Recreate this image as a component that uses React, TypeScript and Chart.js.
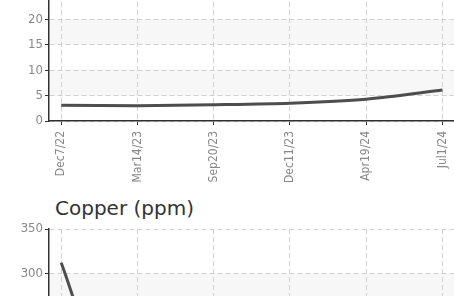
import React, { useEffect, useRef } from "react";
import { Chart, registerables } from "chart.js";

Chart.register(...registerables);

// ---- data ----
const sampleDates = ["Dec7/22", "Mar14/23", "Sep20/23", "Dec11/23", "Apr19/24", "Jul1/24"];
const upperSeries = [3.1, 3.0, 3.2, 3.5, 4.3, 6.1];
const copperSeries = [312, 83, 55, 40, 32, 28];
const upperMax = 25;
const upperStep = 5;
const copperMax = 350;
const copperStep = 50;
const copperTitle = "Copper (ppm)";

const TICK_FONT = "'DejaVu Sans Condensed', 'Liberation Sans Narrow', Roboto, sans-serif";

const bandPlugin = {
  id: "bands",
  beforeDraw(chart: any) {
    const { ctx, chartArea, scales } = chart;
    const y = scales.y;
    if (!y || !chartArea) return;
    ctx.save();
    ctx.fillStyle = "#f7f7f7";
    y.ticks.forEach((t: any, i: number) => {
      if (i % 2 === 1 && i + 1 < y.ticks.length) {
        const yTop = y.getPixelForValue(y.ticks[i + 1].value);
        const yBot = y.getPixelForValue(t.value);
        ctx.fillRect(chartArea.left, yTop, chartArea.right - chartArea.left, yBot - yTop);
      }
    });
    ctx.restore();
  },
};

function makeConfig(values: number[], max: number, step: number): any {
  return {
    type: "line",
    data: {
      datasets: [
        {
          data: values.map((v, i) => ({ x: i, y: v })),
          borderColor: "#4d4d4d",
          borderWidth: 3,
          pointRadius: 0,
          pointHoverRadius: 0,
          tension: 0.25,
          fill: false,
          borderJoinStyle: "round",
        },
      ],
    },
    options: {
      animation: false,
      responsive: false,
      events: [],
      layout: { padding: { top: 10, left: 0, right: 0, bottom: 0 } },
      plugins: { legend: { display: false }, tooltip: { enabled: false }, title: { display: false } },
      scales: {
        x: {
          type: "linear",
          min: -0.16,
          max: sampleDates.length - 1 + 0.165,
          afterFit: (s: any) => {
            s.height = 70;
            s.paddingLeft = 0;
            s.paddingRight = 0;
          },
          grid: {
            color: "#d2d2d2",
            lineWidth: 1,
            tickColor: "#333",
            tickLength: 4,
            tickWidth: 1,
          },
          border: { display: true, color: "#333", width: 1.5, dash: [5, 3] },
          ticks: {
            stepSize: 1,
            includeBounds: false,
            autoSkip: false,
            minRotation: 90,
            maxRotation: 90,
            padding: 6,
            color: "#888",
            font: { family: TICK_FONT, size: 12 },
            callback: (v: any) => sampleDates[v] ?? "",
          },
        },
        y: {
          type: "linear",
          min: 0,
          max: max,
          afterFit: (s: any) => {
            s.width = 49;
            s.paddingTop = 0;
            s.paddingBottom = 0;
          },
          grid: {
            color: "#d2d2d2",
            lineWidth: 1,
            tickColor: "#333",
            tickLength: 4,
            tickWidth: 1,
          },
          border: { display: true, color: "#333", width: 1.5, dash: [5, 3] },
          ticks: {
            stepSize: step,
            padding: 2,
            color: "#888",
            font: { family: TICK_FONT, size: 13 },
          },
        },
      },
    },
    plugins: [bandPlugin],
  };
}

function LineCanvas(props: { values: number[]; max: number; step: number; top: number; height: number }) {
  const ref = useRef<HTMLCanvasElement | null>(null);
  useEffect(() => {
    if (!ref.current) return;
    const chart = new Chart(ref.current, makeConfig(props.values, props.max, props.step));
    return () => chart.destroy();
  }, []);
  return (
    <canvas
      ref={ref}
      width={455}
      height={props.height}
      style={{ position: "absolute", left: 0, top: props.top, width: 455, height: props.height }}
    />
  );
}

export default function App() {
  return (
    <div
      style={{
        position: "fixed",
        left: 0,
        top: 0,
        width: 454,
        height: 296,
        overflow: "hidden",
        background: "#fff",
      }}
    >
      <LineCanvas values={upperSeries} max={upperMax} step={upperStep} top={-16} height={207} />
      <div
        style={{
          position: "absolute",
          left: 55,
          top: 198,
          font: "20px 'DejaVu Sans', sans-serif",
          lineHeight: "20px",
          color: "#333",
          whiteSpace: "nowrap",
        }}
      >
        {copperTitle}
      </div>
      <LineCanvas values={copperSeries} max={copperMax} step={copperStep} top={219} height={391} />
    </div>
  );
}
